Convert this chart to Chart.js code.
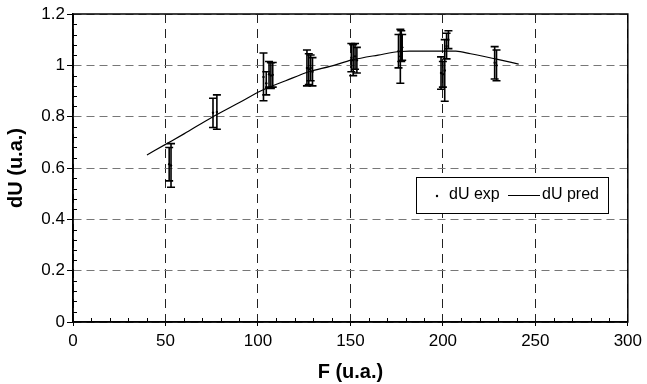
<!DOCTYPE html>
<html>
<head>
<meta charset="utf-8">
<script src="https://cdn.jsdelivr.net/npm/chart.js@4/dist/chart.umd.min.js"></script>
<style>
  html, body { margin: 0; padding: 0; background: #fff; }
  canvas { display: block; }
</style>
</head>
<body>
<canvas id="grafico" width="647" height="384"></canvas>
<script>
// pontos experimentais (F, dU, barra de erro)
const expX = [52, 53, 75.7, 77.8, 103, 104.5, 106, 107, 108, 126.5, 127.5, 128.5, 129.5,
  150.5, 151.5, 152.5, 153.5, 176, 177, 178, 177.5, 199, 200, 201, 202, 203, 228, 229];
const expY = [0.615, 0.61, 0.815, 0.818, 0.955, 0.93, 0.965, 0.96, 0.963, 0.99, 0.985, 0.99, 0.975,
  1.03, 1.02, 1.035, 1.02, 1.055, 1.035, 1.07, 1.075, 0.97, 0.965, 0.98, 1.075, 1.1, 1.01, 1.0];
const expErr = [0.065, 0.085, 0.057, 0.067, 0.093, 0.045, 0.05, 0.05, 0.048, 0.07, 0.06, 0.05, 0.055,
  0.055, 0.06, 0.05, 0.05, 0.065, 0.105, 0.05, 0.06, 0.063, 0.05, 0.12, 0.05, 0.035, 0.063, 0.06];

// curva prevista
const predX = [40, 51, 60, 75, 90, 102, 115, 128, 139, 151, 165, 177, 182, 207, 215, 229, 241];
const predY = [0.651, 0.696, 0.733, 0.797, 0.855, 0.902, 0.94, 0.976, 0.996, 1.021, 1.04, 1.054, 1.055, 1.055, 1.045, 1.024, 1.005];

// ticks
const xTicks = [0, 50, 100, 150, 200, 250, 300];
const yTicks = [0, 0.2, 0.4, 0.6, 0.8, 1, 1.2];

const fonte = "'Liberation Sans', Arial, Helvetica, sans-serif";

// barras de erro, ticks menores, moldura e legenda
const extras = {
  id: 'extras',
  afterDatasetsDraw(chart) {
    const { ctx, chartArea: a, scales: { x, y } } = chart;
    ctx.save();
    ctx.strokeStyle = '#000';

    // barras de erro
    ctx.lineWidth = 1.6;
    expX.forEach((v, i) => {
      const px = x.getPixelForValue(v);
      const top = y.getPixelForValue(expY[i] + expErr[i]);
      const bot = y.getPixelForValue(expY[i] - expErr[i]);
      ctx.beginPath();
      ctx.moveTo(px, top); ctx.lineTo(px, bot);
      ctx.moveTo(px - 4, top); ctx.lineTo(px + 4, top);
      ctx.moveTo(px - 4, bot); ctx.lineTo(px + 4, bot);
      ctx.stroke();
    });

    // ticks menores (para dentro)
    ctx.lineWidth = 1;
    ctx.beginPath();
    for (let v = 10; v < 300; v += 10) {
      if (v % 50 === 0) continue;
      const px = Math.round(x.getPixelForValue(v)) + 0.5;
      ctx.moveTo(px, a.bottom); ctx.lineTo(px, a.bottom - 4);
    }
    for (let k = 1; k < 30; k++) {
      if (k % 5 === 0) continue;
      const py = Math.round(y.getPixelForValue(k * 0.04)) + 0.5;
      ctx.moveTo(a.left, py); ctx.lineTo(a.left + 4, py);
    }
    ctx.stroke();

    // moldura
    ctx.lineWidth = 1.5;
    ctx.strokeRect(a.left, a.top, a.right - a.left, a.bottom - a.top);

    // legenda
    ctx.fillStyle = '#fff';
    ctx.fillRect(416, 177, 192, 36);
    ctx.lineWidth = 1;
    ctx.strokeRect(416.5, 177.5, 192, 36);
    ctx.fillStyle = '#000';
    ctx.beginPath();
    ctx.arc(437, 196, 1.2, 0, Math.PI * 2);
    ctx.fill();
    ctx.font = '16px ' + fonte;
    ctx.textBaseline = 'middle';
    ctx.fillText('dU exp', 449, 195);
    ctx.beginPath();
    ctx.moveTo(508, 195.5); ctx.lineTo(540, 195.5);
    ctx.stroke();
    ctx.fillText('dU pred', 542, 195);
    ctx.restore();
  }
};

const ctx = document.getElementById('grafico').getContext('2d');

const grafico = new Chart(ctx, {
  type: 'scatter',
  data: {
    datasets: [
      {
        label: 'dU exp',
        data: expX.map((v, i) => ({ x: v, y: expY[i] })),
        pointRadius: 1.2,
        pointBackgroundColor: '#000',
        pointBorderWidth: 0,
        showLine: false
      },
      {
        label: 'dU pred',
        data: predX.map((v, i) => ({ x: v, y: predY[i] })),
        showLine: true,
        pointRadius: 0,
        borderColor: '#000',
        borderWidth: 1.2,
        cubicInterpolationMode: 'monotone'
      }
    ]
  },
  options: {
    responsive: false,
    animation: false,
    devicePixelRatio: 1,
    layout: { padding: { top: 14, right: 17, left: 0, bottom: 0 } },
    plugins: {
      legend: { display: false },
      tooltip: { enabled: false }
    },
    scales: {
      x: {
        type: 'linear',
        min: 0,
        max: 300,
        afterFit: (s) => { s.height = 62; },
        afterBuildTicks: (s) => { s.ticks = xTicks.map((v) => ({ value: v })); },
        ticks: { color: '#000', padding: 5, font: { size: 17, family: fonte } },
        grid: { color: '#222', lineWidth: 1, tickColor: '#000', tickLength: 4 },
        border: { display: true, color: '#000', width: 1.5, dash: [9, 6] },
        title: {
          display: true,
          text: 'F (u.a.)',
          color: '#000',
          padding: { top: 0, bottom: 0 },
          font: { size: 20, weight: 'bold', family: fonte }
        }
      },
      y: {
        min: 0,
        max: 1.2,
        afterFit: (s) => { s.width = 73; },
        afterBuildTicks: (s) => { s.ticks = yTicks.map((v) => ({ value: v })); },
        ticks: {
          color: '#000',
          padding: 2,
          font: { size: 17, family: fonte },
          callback: (v) => String(v)
        },
        grid: { color: '#777', lineWidth: 1, tickColor: '#000', tickLength: 6 },
        border: { display: true, color: '#000', width: 1.5, dash: [8, 5] },
        title: {
          display: true,
          text: 'dU (u.a.)',
          color: '#000',
          padding: { top: 4, bottom: 4 },
          font: { size: 20, weight: 'bold', family: fonte }
        }
      }
    }
  },
  plugins: [extras]
});
</script>
</body>
</html>
